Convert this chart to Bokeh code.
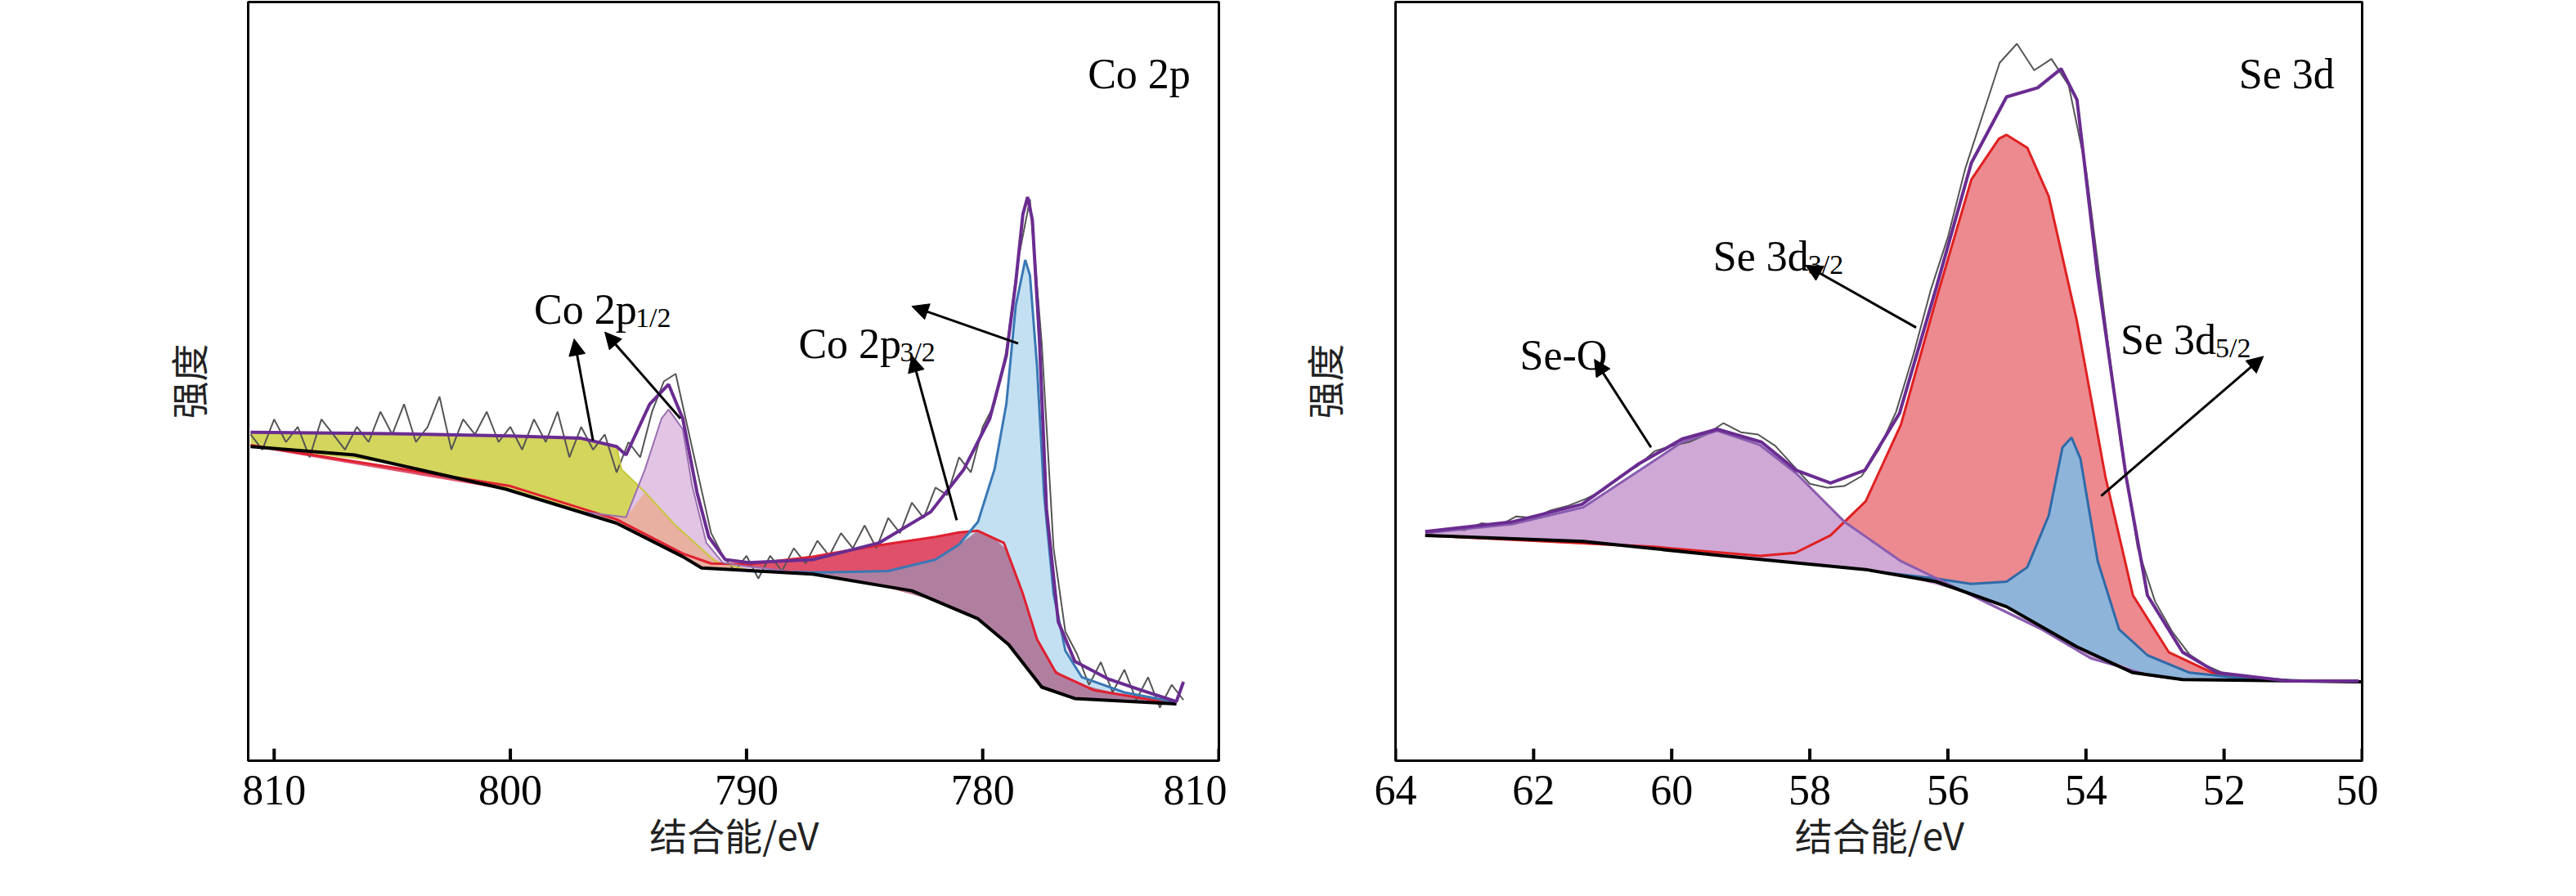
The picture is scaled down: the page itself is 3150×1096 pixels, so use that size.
import numpy as np
from bokeh.plotting import figure
from bokeh.layouts import row
from bokeh.models import Arrow, NormalHead, Range1d, FixedTicker
from bokeh.core.properties import value
from bokeh.embed import file_html
from bokeh.resources import INLINE

SERIF = "Liberation Serif"
CJK = "Noto Sans CJK SC"

# ---- Co 2p data (binding energy eV, intensity a.u.) ----
co_bg_x = [811, 806.6, 800.2, 795.5, 792.7, 791.9, 787.2, 783, 780.2, 778.9, 777.5, 776.1, 771.8]
co_bg_y = [41.4, 40.3, 35.8, 31.3, 26.9, 25.4, 24.6, 22.4, 18.7, 15.3, 9.7, 8.2, 7.5]
co_env_x = [811, 805, 800, 797, 795.5, 795.1, 794.1, 793.3, 792.7, 792.1, 791.6, 790.9, 789.9, 787.2,
            784.4, 782.2, 780.8, 779.7, 779.0, 778.6, 778.3, 778.1, 777.9, 777.6, 777.3, 776.8,
            776.1, 774.7, 773.3, 771.8, 771.5]
co_env_y = [43.3, 43.1, 42.8, 42.5, 41.4, 40.3, 47.0, 49.6, 45.1, 35.4, 29.5, 26.5, 26.1, 26.5,
            28.7, 32.8, 38.4, 45.1, 53.4, 63.1, 72.0, 74.3, 71.3, 55.6, 33.2, 18.3,
            13.1, 10.8, 9.3, 7.8, 10.4]
co_yel_x = [811, 805, 800, 797, 795.5, 795.3, 794.3, 793.0, 791.3, 790.0, 787.2]
co_yel_y = [43.3, 43.1, 42.8, 42.5, 41.4, 38.4, 35.4, 31.0, 26.2, 25.2, 24.6]
co_p12_x = [797, 795.1, 794.3, 793.6, 793.3, 792.7, 792.3, 791.7, 791.0, 790.2, 788]
co_p12_y = [32.8, 32.1, 38.4, 45.1, 46.3, 43.7, 36.2, 28.7, 26.1, 25.7, 24.9]
co_red_x = [811, 800, 795.5, 792.7, 791.5, 789.9, 787.2, 784.4, 782.0, 781.0, 780.2, 779.1,
            778.3, 777.7, 776.9, 775.3, 771.8]
co_red_y = [41.6, 36.2, 31.8, 27.3, 26.0, 25.9, 26.9, 28.4, 29.5, 30.1, 30.3, 28.7,
            22.0, 16.0, 11.6, 9.3, 7.5]
co_blue_x = [790, 787, 784, 782, 781, 780.2, 779.5, 779.0, 778.6, 778.2, 778.0, 777.7, 777.4,
             777.0, 776.5, 775.8, 774.0, 771.8]
co_blue_y = [25.0, 24.8, 25.0, 26.5, 28.5, 31.5, 38.4, 47.0, 60.0, 66.0, 64.0, 52.0, 35.0,
             22.0, 14.5, 11.0, 9.0, 7.7]
co_raw_y = [43, 41, 45, 42, 44, 40, 45, 43, 41, 44, 42, 46, 43, 47, 42, 44, 48, 41, 45, 43,
            46, 42, 44, 41, 45, 42, 46, 40, 44, 41, 43, 38, 42, 40, 46, 50, 51, 44, 37, 30,
            27, 25, 27, 24, 27, 25, 28, 26, 29, 27, 30, 28, 31, 28, 32, 30, 34, 32, 36, 35,
            40, 38, 44, 47, 54, 66, 74, 55, 28, 17, 14, 10, 13, 9, 12, 8, 11, 7, 10, 8]
co_ticks = [810, 800, 790, 780, 770]
co_tick_labels = ["810", "800", "790", "780", "810"]

# ---- Se 3d data ----
se_bg_x = [63.57, 61.28, 59.24, 57.19, 56.17, 55.15, 54.13, 53.32, 52.6, 50.0]
se_bg_y = [29.7, 28.9, 27.0, 25.2, 23.6, 20.3, 15.0, 11.6, 10.7, 10.4]
se_env_x = [63.57, 62.3, 61.3, 60.5, 59.85, 59.34, 58.7, 58.2, 57.7, 57.2, 56.7, 56.17, 55.66,
            55.15, 54.7, 54.36, 54.13, 53.83, 53.42, 53.11, 52.6, 52.1, 51.07, 50.05]
se_env_y = [30.2, 31.5, 33.8, 39.0, 42.4, 43.7, 42.0, 38.3, 36.6, 38.3, 45.8, 62.3, 78.8,
            87.5, 88.7, 91.2, 87.1, 63.8, 37.5, 21.8, 14.3, 11.6, 10.5, 10.5]
se_o_x = [63.57, 62.3, 61.28, 60.46, 59.85, 59.34, 58.72, 58.2, 57.5, 56.68, 55.66, 54.64, 53.93, 53.1, 52.6]
se_o_y = [30.0, 31.2, 33.4, 38.3, 42.0, 43.5, 41.6, 37.9, 31.5, 26.3, 21.8, 17.3, 13.5, 11.3, 10.7]
se_red_x = [63.57, 60.26, 58.72, 58.21, 57.7, 57.19, 56.68, 56.17, 55.66, 55.26, 55.15, 54.85,
            54.54, 54.13, 53.72, 53.32, 52.8, 52.1, 51.07, 50.0]
se_red_y = [29.7, 28.2, 27.0, 27.4, 29.7, 34.2, 44.3, 60.8, 76.6, 82.0, 82.5, 80.8,
            74.4, 57.9, 37.5, 21.8, 14.3, 11.3, 10.5, 10.4]
se_blue_x = [57.0, 56.17, 55.66, 55.15, 54.85, 54.54, 54.34, 54.21, 54.08, 53.83, 53.52, 53.11,
             52.5, 51.58, 50.0]
se_blue_y = [24.9, 24.0, 23.3, 23.6, 25.5, 32.3, 41.3, 42.6, 39.8, 26.3, 17.3, 13.9,
             11.6, 10.7, 10.4]
se_raw_y = [30.0, 30.5, 30.4, 31.3, 31.0, 32.2, 32.0, 33.0, 33.6, 34.5, 35.6, 37.5, 38.8, 40.8,
            41.5, 42.0, 43.0, 44.5, 43.3, 43.0, 41.5, 39.0, 36.5, 36.0, 36.2, 37.5, 41.0, 46.0,
            53.5, 62.0, 69.0, 78.0, 85.0, 92.0, 94.5, 91.0, 92.5, 89.0, 78.0, 60.0, 42.0, 28.0,
            21.0, 17.0, 14.0, 12.5, 11.5, 11.2, 11.0, 10.8, 10.6, 10.5, 10.5, 10.5]
se_ticks = [64, 62, 60, 58, 56, 54, 52, 50]


def base_fig(width, xr, ticks, border_left, border_right, standoff):
    p = figure(width=width, height=1080, x_range=xr, y_range=Range1d(0, 100),
               output_backend="svg", toolbar_location=None,
               min_border_left=border_left, min_border_right=border_right,
               min_border_top=2, min_border_bottom=150)
    p.grid.visible = False
    p.outline_line_color = "black"
    p.outline_line_width = 3
    p.background_fill_color = "white"
    p.xaxis.ticker = FixedTicker(ticks=ticks)
    p.xaxis.axis_line_width = 3
    p.xaxis.axis_line_color = "black"
    p.xaxis.major_tick_line_color = None
    p.xaxis.minor_tick_line_color = None
    p.xaxis.major_label_text_font = SERIF
    p.xaxis.major_label_text_font_size = "52px"
    p.xaxis.major_label_text_color = "black"
    p.xaxis.major_label_standoff = 12
    p.xaxis.axis_label = "结合能/eV"
    p.xaxis.axis_label_text_font = CJK
    p.xaxis.axis_label_text_font_style = "normal"
    p.xaxis.axis_label_text_font_size = "46px"
    p.xaxis.axis_label_text_color = "#222222"
    p.xaxis.axis_label_standoff = 0
    p.yaxis.axis_label = "强度"
    p.yaxis.axis_label_text_font = CJK
    p.yaxis.axis_label_text_font_style = "normal"
    p.yaxis.axis_label_text_font_size = "46px"
    p.yaxis.axis_label_text_color = "#222222"
    p.yaxis.axis_label_standoff = standoff
    p.yaxis.major_label_text_font_size = "0px"
    p.yaxis.major_tick_line_color = None
    p.yaxis.minor_tick_line_color = None
    p.yaxis.axis_line_width = 3
    p.yaxis.axis_line_color = "black"
    # inward ticks on the bottom axis
    p.segment(x0=ticks, y0=[0] * len(ticks), x1=ticks, y1=[1.6] * len(ticks),
              line_color="black", line_width=4)
    return p


def fill(p, cx, cy, bx, by, color, top=None):
    x = np.array(cx, dtype=float)
    y = np.array(cy, dtype=float)
    if top is not None:
        y = np.minimum(y, top(x))
    b = np.interp(-x, -np.array(bx), np.array(by))
    p.varea(x=x, y1=b, y2=y, fill_color=color, fill_alpha=1)


def interp_desc(xs, ys):
    return lambda x: np.interp(-np.asarray(x), -np.array(xs), np.array(ys))


def label(p, x, y, main, sub=None, sub_dx=0, align="left"):
    p.text([x], [y], text=[main], text_font=value(SERIF), text_font_size="52px",
           text_align=align, text_baseline="alphabetic", text_color="black")
    if sub:
        p.text([x], [y], text=[sub], text_font=value(SERIF), text_font_size="34px",
               text_align="left", text_baseline="alphabetic", text_color="black",
               x_offset=sub_dx, y_offset=10)


def arrow(p, x0, y0, x1, y1):
    p.add_layout(Arrow(end=NormalHead(size=20, fill_color="black", line_color="black"),
                       x_start=x0, y_start=y0, x_end=x1, y_end=y1,
                       line_width=3, line_color="black"))


# ---------- left: Co 2p ----------
p1 = base_fig(1500, Range1d(811.1, 770.0), co_ticks, 303, 10, 36)
p1.xaxis.major_label_overrides = {t: s for t, s in zip(co_ticks, co_tick_labels)}

fill(p1, co_red_x, co_red_y, co_bg_x, co_bg_y, "#e0506a")
fill(p1, co_blue_x, co_blue_y, co_bg_x, co_bg_y, "#c3e0f2")
fill(p1, co_blue_x, co_blue_y, co_bg_x, co_bg_y, "#b07fa0", top=interp_desc(co_red_x, co_red_y))
fill(p1, co_yel_x, co_yel_y, co_bg_x, co_bg_y, "#d3d55c")
fill(p1, co_p12_x, co_p12_y, co_bg_x, co_bg_y, "#e2c4e4")
fill(p1, co_p12_x, co_p12_y, co_bg_x, co_bg_y, "#e8b0a0", top=interp_desc(co_yel_x, co_yel_y))

co_raw_x = np.linspace(811, 771.5, len(co_raw_y))
p1.line(co_raw_x, co_raw_y, line_color="#555555", line_width=2)
p1.line(co_yel_x, co_yel_y, line_color="#c8c83a", line_width=2)
p1.line(co_red_x, co_red_y, line_color="#e02030", line_width=3)
p1.line(co_blue_x, co_blue_y, line_color="#3a78b5", line_width=3)
p1.line(co_p12_x, co_p12_y, line_color="#9b6fb0", line_width=2)
p1.line(co_bg_x, co_bg_y, line_color="black", line_width=4)
p1.line(co_env_x, co_env_y, line_color="#6a2c91", line_width=4)

label(p1, 771.2, 90.5, "Co 2p", align="right")
label(p1, 799.0, 59.5, "Co 2p", "1/2", 124)
label(p1, 787.8, 55.0, "Co 2p", "3/2", 124)
arrow(p1, 796.5, 42.2, 797.3, 55.6)
arrow(p1, 792.8, 45.1, 796.0, 56.5)
arrow(p1, 781.1, 31.7, 783.0, 53.4)
arrow(p1, 778.5, 55.0, 783.0, 59.9)

# ---------- right: Se 3d ----------
p2 = base_fig(1408, Range1d(64, 50), se_ticks, 206, 20, 50)

fill(p2, se_red_x, se_red_y, se_bg_x, se_bg_y, "#ec8a90")
fill(p2, se_blue_x, se_blue_y, se_bg_x, se_bg_y, "#8fb4da")
fill(p2, se_o_x, se_o_y, se_bg_x, se_bg_y, "#cfa8d6")

se_raw_x = np.linspace(63.5, 50.25, len(se_raw_y))
p2.line(se_raw_x, se_raw_y, line_color="#555555", line_width=2)
p2.line(se_red_x, se_red_y, line_color="#e02020", line_width=3)
p2.line(se_blue_x, se_blue_y, line_color="#2f6aa8", line_width=3)
p2.line(se_o_x, se_o_y, line_color="#8a5cb0", line_width=3)
p2.line(se_bg_x, se_bg_y, line_color="black", line_width=4)
p2.line(se_env_x, se_env_y, line_color="#6a2c91", line_width=4)

label(p2, 50.4, 90.5, "Se 3d", align="right")
label(p2, 62.2, 53.5, "Se-O")
label(p2, 59.4, 66.5, "Se 3d", "3/2", 116)
label(p2, 53.5, 55.5, "Se 3d", "5/2", 116)
arrow(p2, 60.3, 41.3, 61.12, 52.9)
arrow(p2, 56.46, 57.1, 58.06, 65.3)
arrow(p2, 53.78, 34.9, 51.43, 53.3)

p = row(p1, p2)
open("out.html", "w").write(file_html(p, INLINE))
